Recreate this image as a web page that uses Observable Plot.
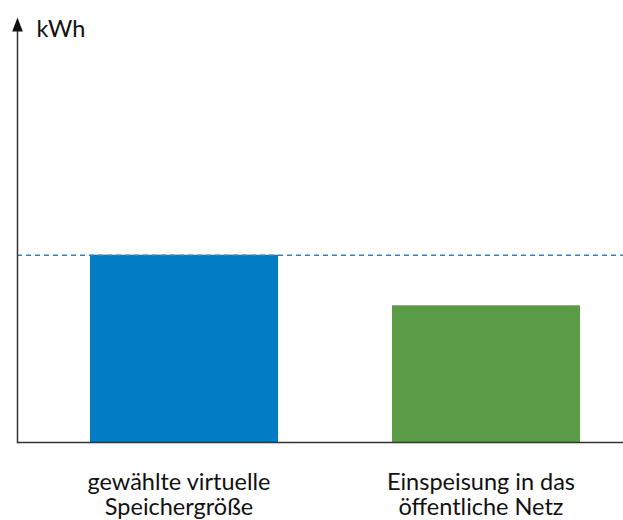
<!DOCTYPE html>
<html>
<head>
<meta charset="utf-8">
<script src="https://cdn.jsdelivr.net/npm/d3@7"></script>
<script src="https://cdn.jsdelivr.net/npm/@observablehq/plot@0.6"></script>
<style>
  html, body { margin: 0; padding: 0; background: #fff; }
</style>
</head>
<body>
<div id="chart"></div>
<script>
const categories = ["gewählte virtuelle\nSpeichergröße", "Einspeisung in das\nöffentliche Netz"];
const values = [100, 73];
const colors = ["#007DC5", "#5A9B45"];
const unitLabel = "kWh";
const referenceValue = 100;
const yMax = 220;

const data = categories.map((c, i) => ({category: c, value: values[i], color: colors[i]}));

const arrowHead = {
  draw(context) {
    context.moveTo(0, -14);
    context.lineTo(-5.3, 0);
    context.lineTo(5.3, 0);
    context.closePath();
  }
};

const chart = Plot.plot({
  width: 623,
  height: 520,
  marginLeft: 17,
  marginRight: 0,
  marginTop: 30,
  marginBottom: 78,
  style: {fontFamily: "Lato, sans-serif", background: "#fff"},
  x: {domain: categories, range: [90, 580.5], paddingInner: 0.378, paddingOuter: 0, axis: null},
  y: {domain: [0, yMax], axis: null},
  marks: [
    Plot.barY(data, {x: "category", y: "value", fill: "color"}),
    Plot.ruleY([referenceValue], {stroke: "#1E88D0", strokeWidth: 1.5, strokeDasharray: "5,4"}),
    Plot.ruleY([0], {stroke: "#333", strokeWidth: 1.5}),
    Plot.frame({anchor: "left", stroke: "#333", strokeWidth: 1.5}),
    Plot.dot([0], {frameAnchor: "top-left", symbol: arrowHead, r: 6, fill: "#111", stroke: "none", dy: 1}),
    Plot.text([unitLabel], {frameAnchor: "top-left", textAnchor: "start", lineAnchor: "bottom", dx: 19, dy: 6, fontSize: 23.5, fill: "#111"}),
    Plot.text(data, {x: "category", y: 0, text: "category", lineAnchor: "top", dy: 30, dx: -5.5, fontSize: 23.5, lineHeight: 1.05, fill: "#111"})
  ]
});
document.getElementById("chart").appendChild(chart);
</script>
</body>
</html>
